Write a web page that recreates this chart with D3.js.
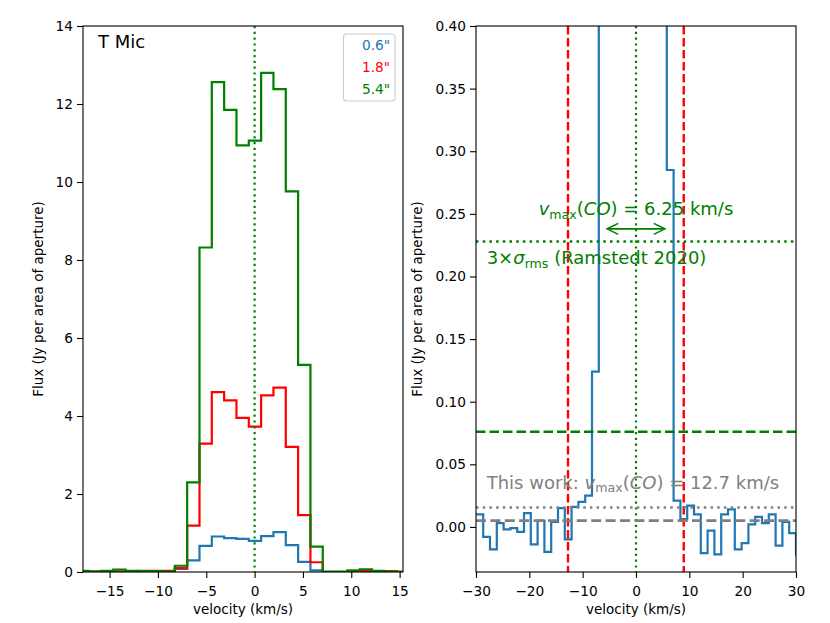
<!DOCTYPE html>
<html><head><meta charset="utf-8">
<script src="https://cdn.jsdelivr.net/npm/d3@7"></script>
<style>
body{margin:0;background:#fff}
text{font-family:"DejaVu Sans","Liberation Sans",sans-serif}
</style>
</head><body>
<svg id="chart" width="830" height="623" xmlns="http://www.w3.org/2000/svg"></svg>
<script>
// ---------------- DATA ----------------
// channel centre velocities (km/s)
const velocity = [-30.56,-29.29,-28.01,-26.74,-25.46,-24.19,-22.91,-21.64,-20.36,-19.09,
  -17.81,-16.54,-15.26,-13.99,-12.71,-11.44,-10.16,-8.89,-7.61,-6.34,
  -5.06,-3.79,-2.51,-1.24,0.04,1.31,2.59,3.86,5.14,6.41,
  7.69,8.96,10.24,11.51,12.79,14.06,15.34,16.61,17.89,19.16,
  20.44,21.71,22.99,24.26,25.54,26.81,28.09,29.36,30.64];
const leftVelocity = velocity.slice(10, 37);

// left panel spectra (Jy per area of aperture)
const flux06 = [0.00,0.01,0.00,0.00,0.00,0.00,0.00,0.01,0.08,0.30,0.67,0.91,0.87,0.85,0.80,0.92,1.02,0.69,0.26,0.04,0.00,0.00,0.00,0.00,0.00,0.00,0.00];
const flux18 = [0.01,0.01,0.01,0.01,0.01,0.03,0.03,0.03,0.10,1.19,3.29,4.61,4.40,3.95,3.73,4.53,4.73,3.21,1.46,0.25,0.00,0.00,0.01,0.02,0.02,0.02,0.01];
const flux54 = [0.03,0.01,0.03,0.06,0.03,0.02,0.02,0.01,0.16,2.30,8.32,12.56,11.85,10.94,11.06,12.80,12.38,9.76,5.31,0.65,0.01,0.01,0.04,0.07,0.03,0.01,0.00];
const apertureLabels = ['0.6"', '1.8"', '5.4"'];
const starName = 'T Mic';

// right panel spectrum (zoom on the wings)
const rightFlux = [0.010,0.010,-0.008,-0.018,0.003,-0.002,-0.001,-0.004,0.011,-0.014,
  0.005,-0.020,0.004,0.015,-0.010,0.016,0.020,0.025,0.124,
  0.45,0.75,0.90,0.86,0.84,0.80,0.92,1.00,0.75,0.50,
  0.285,0.021,0.006,0.017,0.010,-0.021,-0.003,-0.022,0.010,0.014,
  -0.018,-0.013,0.002,0.008,0.003,0.010,-0.015,0.004,-0.005,-0.022];

const leftXTicks = [-15,-10,-5,0,5,10,15];
const leftYTicks = [0,2,4,6,8,10,12,14];
const rightXTicks = [-30,-20,-10,0,10,20,30];
const rightYTicks = [0,0.05,0.10,0.15,0.20,0.25,0.30,0.35,0.40];

const systemicVelocity = 0;
const vmaxRamstedt = 6.25;
const vmaxThisWork = 12.7;
const threeSigmaRamstedt = 0.228;
const ramstedtLevel = 0.076;
const noiseMean = 0.005;
const threeSigmaThisWork = 0.0155;
const velocityLimits = [-12.75, 8.95];

// ---------------- LAYOUT ----------------
const svg = d3.select('#chart');
const C0 = '#1f77b4', RED = '#ff0000', GREEN = '#008000', GRAY = '#808080';
const TICK_FS = 13.7, LABEL_FS = 13.5, ANN_FS = 18;

const panels = [
  {x0: 83, x1: 403, xDom: [-17.75, 15.35], yDom: [0, 14], xt: leftXTicks, yt: leftYTicks, yfmt: d3.format('d'), id: 'L', labOff: 40},
  {x0: 476, x1: 796, xDom: [-30, 30], yDom: [-0.036, 0.40], xt: rightXTicks, yt: rightYTicks, yfmt: d3.format('.2f'), id: 'R', labOff: 54}
];
const yTop = 26, yBot = 572;

panels.forEach(p => {
  p.x = d3.scaleLinear().domain(p.xDom).range([p.x0, p.x1]);
  p.y = d3.scaleLinear().domain(p.yDom).range([yBot, yTop]);
  svg.append('clipPath').attr('id', 'clip' + p.id)
    .append('rect').attr('x', p.x0).attr('y', yTop).attr('width', p.x1 - p.x0).attr('height', yBot - yTop);
  p.g = svg.append('g').attr('clip-path', `url(#clip${p.id})`);
});

function drawAxes(p) {
  const xa = svg.append('g').attr('transform', `translate(0,${yBot})`)
    .call(d3.axisBottom(p.x).tickValues(p.xt).tickSize(6).tickSizeOuter(0).tickPadding(8).tickFormat(d3.format('d')));
  const ya = svg.append('g').attr('transform', `translate(${p.x0},0)`)
    .call(d3.axisLeft(p.y).tickValues(p.yt).tickSize(6).tickSizeOuter(0).tickPadding(4).tickFormat(p.yfmt));
  [xa, ya].forEach(a => {
    a.select('.domain').remove();
    a.selectAll('text').attr('font-size', TICK_FS).attr('fill', '#000').attr('font-family', '"DejaVu Sans",sans-serif');
    a.selectAll('line').attr('stroke', '#000').attr('stroke-width', 1.1);
  });
  svg.append('rect').attr('x', p.x0).attr('y', yTop).attr('width', p.x1 - p.x0).attr('height', yBot - yTop)
    .attr('fill', 'none').attr('stroke', '#000').attr('stroke-width', 1.1);
  const cx = (p.x0 + p.x1) / 2;
  svg.append('text').attr('x', cx).attr('y', 614).attr('text-anchor', 'middle')
    .attr('font-size', LABEL_FS).text('velocity (km/s)');
  svg.append('text').attr('transform', `translate(${p.x0 - p.labOff},${(yTop + yBot) / 2}) rotate(-90)`)
    .attr('text-anchor', 'middle').attr('font-size', LABEL_FS).text('Flux (Jy per area of aperture)');
}

function stepLine(p, xs, ys, color, w) {
  const pts = xs.map((v, i) => [v, ys[i]]);
  p.g.append('path').datum(pts)
    .attr('d', d3.line().x(d => p.x(d[0])).y(d => p.y(d[1])).curve(d3.curveStep))
    .attr('fill', 'none').attr('stroke', color).attr('stroke-width', w).attr('stroke-linejoin', 'miter');
}
function vline(p, v, color, w, dash) {
  p.g.append('line').attr('x1', p.x(v)).attr('x2', p.x(v)).attr('y1', yTop).attr('y2', yBot)
    .attr('stroke', color).attr('stroke-width', w).attr('stroke-dasharray', dash);
}
function hline(p, val, color, w, dash) {
  p.g.append('line').attr('x1', p.x0).attr('x2', p.x1).attr('y1', p.y(val)).attr('y2', p.y(val))
    .attr('stroke', color).attr('stroke-width', w).attr('stroke-dasharray', dash);
}

// ---------- LEFT PANEL ----------
const L = panels[0];
stepLine(L, leftVelocity, flux06, C0, 2.2);
stepLine(L, leftVelocity, flux18, RED, 2.2);
stepLine(L, leftVelocity, flux54, GREEN, 2.2);
vline(L, systemicVelocity, GREEN, 2.2, '2.2,3.6');
drawAxes(L);
svg.append('text').attr('x', 98).attr('y', 47.5).attr('font-size', ANN_FS).text(starName);

// legend
const leg = svg.append('g');
leg.append('rect').attr('x', 343.5).attr('y', 34).attr('width', 51.5).attr('height', 67).attr('rx', 3)
  .attr('fill', '#fff').attr('fill-opacity', 0.8).attr('stroke', '#cccccc').attr('stroke-width', 1.1);
[C0, RED, GREEN].forEach((c, i) => {
  leg.append('text').attr('x', 362).attr('y', 50 + i * 22.2).attr('font-size', TICK_FS)
    .attr('fill', c).text(apertureLabels[i]);
});

// ---------- RIGHT PANEL ----------
const R = panels[1];
stepLine(R, velocity, rightFlux, C0, 2.2);
vline(R, systemicVelocity, GREEN, 2.2, '2.2,3.6');
velocityLimits.forEach(v => vline(R, v, RED, 2.4, '8.4,3.6'));
hline(R, threeSigmaRamstedt, GREEN, 2.5, '2.5,4.2');
hline(R, ramstedtLevel, GREEN, 2.5, '9.5,4');
hline(R, threeSigmaThisWork, GRAY, 2.5, '2.5,4.2');
hline(R, noiseMean, GRAY, 2.8, '10,4.4');
drawAxes(R);

// double-headed arrow for vmax (Ramstedt)
const ay = R.y(0.238);
const ax1 = R.x(systemicVelocity - vmaxRamstedt) + 4.5, ax2 = R.x(systemicVelocity + vmaxRamstedt) - 4.5;
const arr = svg.append('g').attr('stroke', GREEN).attr('stroke-width', 1.6).attr('fill', 'none');
arr.append('line').attr('x1', ax1).attr('x2', ax2).attr('y1', ay).attr('y2', ay);
arr.append('path').attr('d', `M${ax1 + 11},${ay - 5.5}L${ax1},${ay}L${ax1 + 11},${ay + 5.5}`);
arr.append('path').attr('d', `M${ax2 - 11},${ay - 5.5}L${ax2},${ay}L${ax2 - 11},${ay + 5.5}`);

function mathLabel(x, y, anchor, color, parts) {
  const t = svg.append('text').attr('x', x).attr('y', y).attr('text-anchor', anchor)
    .attr('font-size', ANN_FS).attr('fill', color);
  parts.forEach(pt => {
    const s = t.append('tspan').text(pt.t);
    if (pt.i) s.attr('font-style', 'italic');
    if (pt.sub) s.attr('font-size', ANN_FS * 0.7).attr('dy', 3.5);
    if (pt.up) s.attr('dy', -3.5);
  });
  return t;
}
mathLabel(R.x(0), R.y(0.249), 'middle', GREEN, [
  {t: 'v', i: true}, {t: 'max', sub: true}, {t: '(', up: true}, {t: 'CO', i: true},
  {t: ') = ' + vmaxRamstedt + ' km/s'}]);
mathLabel(R.x(-28), R.y(0.2096), 'start', GREEN, [
  {t: '3×'}, {t: 'σ', i: true}, {t: 'rms', sub: true}, {t: ' (Ramstedt 2020)', up: true}]);
mathLabel(R.x(-28), R.y(0.0304), 'start', GRAY, [
  {t: 'This work: '}, {t: 'v', i: true}, {t: 'max', sub: true}, {t: '(', up: true}, {t: 'CO', i: true},
  {t: ') = ' + vmaxThisWork + ' km/s'}]);
</script>
</body></html>
